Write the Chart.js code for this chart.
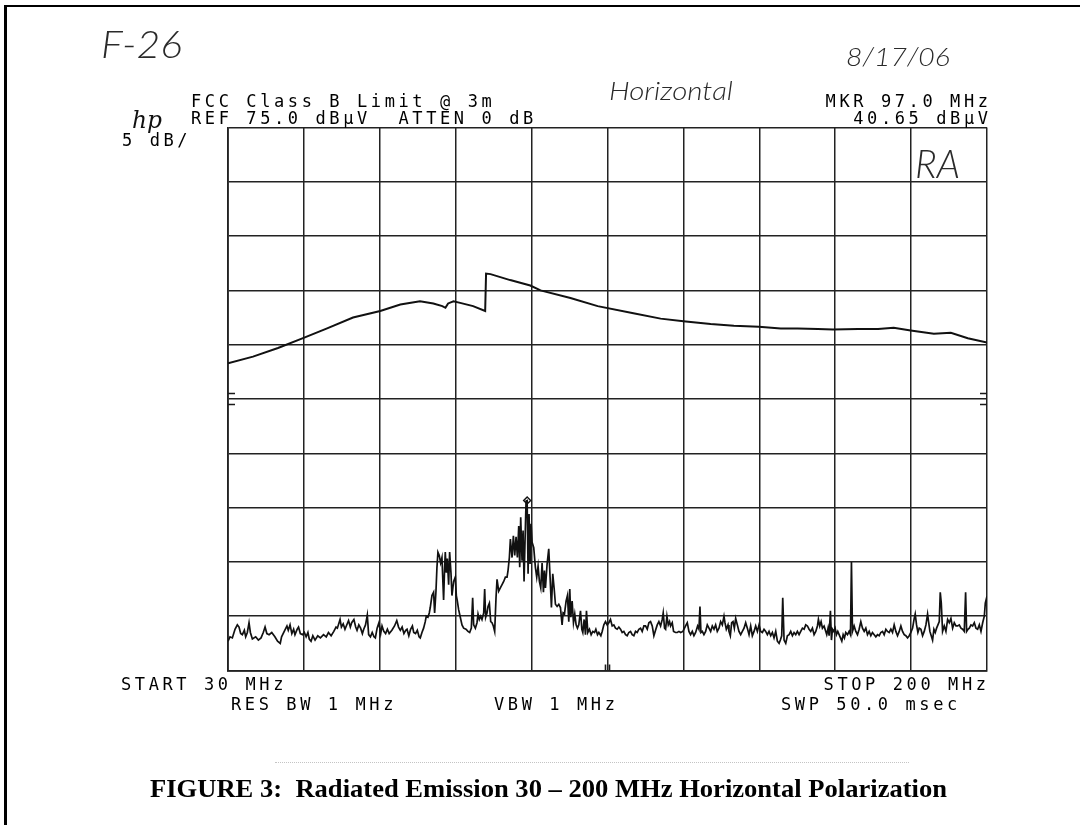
<!DOCTYPE html>
<html>
<head>
<meta charset="utf-8">
<title>Radiated Emission 30 – 200 MHz Horizontal Polarization</title>
<script src="https://cdn.jsdelivr.net/npm/chart.js@4.4.1/dist/chart.umd.min.js"></script>
<style>
  html, body { margin: 0; padding: 0; background: #fff; }
  #page { position: relative; width: 1080px; height: 825px; overflow: hidden; background: #fff; }
  #chart { position: absolute; left: 0; top: 0; }
  .lbl { position: absolute; white-space: pre; transform-origin: 0 0; color: #111; }
  .plot { font-family: 'DejaVu Sans Mono', monospace; font-size: 17px; letter-spacing: 3.6px; line-height: 17px; color: #000; }
  .hand { font-family: 'Lato', 'DejaVu Sans', sans-serif; font-style: italic; font-weight: 300; color: #2a2a2a; }
  .logo { font-family: 'DejaVu Serif', serif; font-style: italic; }
  .caption { font-family: 'Liberation Serif', 'Times New Roman', serif; font-weight: bold; font-size: 26px; color: #000; }
  .frame-left { position: absolute; left: 4px; top: 5px; width: 3px; height: 820px; background: #000; }
  .frame-top { position: absolute; left: 4px; top: 5px; width: 1076px; height: 2px; background: #000; }
  .scanline { position: absolute; left: 275px; top: 762px; width: 634px; border-top: 1px dotted #c4c4c4; }
</style>
</head>
<body>
<div id="page">
  <canvas id="chart" width="1080" height="825"></canvas>
  <div class="frame-left"></div>
  <div class="frame-top"></div>
  <div class="scanline"></div>
</div>
<script>
// HP spectrum analyser plot, FCC Class B radiated emission scan

// sweep settings
const startMHz = 30;
const stopMHz = 200;
const refLevel = 75.0;   // dBµV at top graticule
const dbPerDiv = 5;
const markerFreq = 97.0;
const markerLevel = 40.65;

// graticule (10 x 10 divisions)
const freqGrid = [30, 47, 64, 81, 98, 115, 132, 149, 166, 183, 200];
const levelGrid = [25, 30, 35, 40, 45, 50, 55, 60, 65, 70, 75];

// upper trace [MHz, dBµV]
const limitTrace = [
    [30.0, 53.3], [35.6, 53.9], [41.2, 54.7], [46.8, 55.6], [52.2, 56.5], [58.0, 57.5],
    [64.1, 58.1], [68.6, 58.7], [73.0, 59.0], [76.0, 58.8], [78.0, 58.55], [78.7, 58.4],
    [79.3, 58.8], [80.5, 59.0], [82.0, 58.85], [84.9, 58.55], [87.6, 58.1], [87.8, 61.55],
    [88.8, 61.5], [93.2, 60.95], [97.7, 60.45], [100.0, 60.0], [106.7, 59.3], [112.8, 58.55],
    [120.8, 57.9], [126.9, 57.4], [132.0, 57.15], [138.1, 56.9], [143.3, 56.75], [148.9, 56.65],
    [153.8, 56.5], [157.6, 56.5], [162.1, 56.45], [165.5, 56.4], [171.1, 56.45], [175.6, 56.45],
    [179.1, 56.55], [182.9, 56.3], [188.1, 56.0], [191.9, 56.1], [195.7, 55.6], [200.0, 55.2]
];

// lower (measured emission) trace [MHz, dBµV]
const emissionTrace = [
    [30.0, 27.7], [30.45, 28.1], [30.97, 28.0], [31.57, 28.8], [32.09, 29.2], [32.47, 29.0],
    [32.84, 28.4], [33.21, 28.3], [33.66, 28.7], [33.96, 28.1], [34.33, 28.5], [34.71, 29.4],
    [35.01, 28.5], [35.46, 27.9], [36.2, 28.1], [36.8, 27.8], [37.4, 28.0], [37.9, 28.5],
    [38.3, 29.0], [38.7, 28.4], [39.2, 28.3], [39.8, 28.5], [40.5, 28.1], [41.1, 27.7],
    [41.7, 27.5], [42.0, 28.1], [42.6, 28.6], [43.2, 29.1], [43.5, 28.7], [43.9, 29.2],
    [44.3, 28.4], [44.7, 28.8], [45.0, 28.3], [45.5, 28.8], [45.8, 29.0], [46.2, 28.4],
    [46.7, 28.3], [47.1, 28.5], [47.5, 28.1], [47.9, 28.5], [48.2, 27.9], [48.6, 27.7],
    [49.0, 28.2], [49.5, 27.8], [50.1, 28.2], [50.7, 28.0], [51.4, 28.3], [52.0, 28.1],
    [52.5, 28.5], [53.1, 28.2], [53.7, 28.6], [54.2, 29.0], [54.5, 28.9], [55.1, 29.7],
    [55.4, 29.0], [55.8, 29.3], [56.2, 28.8], [56.5, 29.1], [57.0, 29.6], [57.4, 29.0],
    [57.7, 29.4], [58.2, 29.7], [58.6, 29.0], [58.9, 28.7], [59.3, 29.2], [59.7, 28.9],
    [60.1, 28.4], [60.4, 28.8], [60.8, 29.2], [61.2, 30.1], [61.5, 28.3], [61.9, 28.1],
    [62.3, 28.5], [62.7, 28.1], [63.0, 28.0], [63.4, 28.9], [63.8, 29.4], [64.2, 28.4],
    [64.5, 29.1], [64.9, 28.6], [65.3, 28.4], [65.7, 28.8], [66.1, 28.4], [66.7, 28.7],
    [67.3, 29.1], [67.8, 29.6], [68.2, 29.0], [68.6, 28.7], [69.0, 29.0], [69.4, 28.4],
    [69.8, 28.7], [70.1, 28.8], [70.5, 28.2], [70.9, 28.8], [71.3, 29.1], [71.6, 28.5],
    [72.0, 28.4], [72.4, 28.7], [72.8, 28.1], [73.06, 28.0], [73.44, 28.5], [73.81, 28.9],
    [74.18, 29.5], [74.41, 30.0], [74.78, 29.9], [75.08, 30.3], [75.3, 30.8], [75.68, 31.9],
    [76.05, 32.2], [76.28, 30.3], [76.58, 32.3], [76.8, 34.5], [77.02, 35.9], [77.32, 35.6],
    [77.62, 34.9], [77.92, 35.4], [78.29, 31.5], [78.52, 34.5], [78.67, 35.9], [78.89, 34.0],
    [79.12, 35.3], [79.42, 32.9], [79.64, 35.9], [79.94, 34.0], [80.16, 31.9], [80.54, 33.2],
    [80.91, 33.6], [81.14, 31.9], [81.36, 31.4], [81.66, 30.6], [82.03, 29.9], [82.41, 29.2],
    [82.78, 28.9], [83.3, 28.8], [83.75, 28.6], [84.13, 28.5], [84.5, 28.9], [84.8, 31.7],
    [85.02, 29.2], [85.4, 28.9], [85.77, 29.4], [86.0, 30.2], [86.29, 29.7], [86.59, 30.0],
    [86.89, 29.7], [87.27, 30.3], [87.49, 32.5], [87.71, 29.9], [88.01, 30.3], [88.24, 30.9],
    [88.54, 31.2], [88.84, 29.5], [89.13, 29.4], [89.43, 29.1], [89.73, 28.6], [90.03, 31.7],
    [90.26, 33.4], [90.63, 32.3], [91.0, 32.6], [91.38, 32.9], [91.75, 33.2], [92.13, 33.6],
    [92.5, 33.6], [92.72, 34.2], [93.02, 35.4], [93.25, 37.1], [93.62, 35.4], [93.92, 37.4],
    [94.22, 35.6], [94.52, 37.3], [94.82, 35.4], [95.12, 38.3], [95.34, 34.5], [95.56, 39.1],
    [95.86, 35.1], [96.09, 37.9], [96.31, 33.2], [96.54, 37.1], [96.76, 40.6], [97.0, 40.65],
    [97.21, 33.9], [97.43, 39.4], [97.66, 34.8], [97.88, 38.5], [98.11, 36.8], [98.48, 36.3],
    [98.85, 34.5], [99.15, 33.6], [99.45, 34.6], [99.75, 33.2], [100.05, 32.6], [100.35, 34.9],
    [100.65, 32.2], [100.87, 34.2], [101.1, 32.6], [101.47, 34.8], [101.84, 36.2], [102.14, 33.6],
    [102.44, 30.8], [102.74, 33.9], [103.04, 32.6], [103.34, 31.1], [103.71, 30.9], [104.09, 31.1],
    [104.46, 30.8], [104.83, 29.2], [105.06, 30.3], [105.36, 30.2], [105.73, 31.4], [106.03, 31.9],
    [106.33, 29.5], [106.55, 32.5], [106.78, 29.9], [107.08, 31.4], [107.38, 29.4], [107.67, 30.2],
    [107.97, 29.2], [108.27, 28.9], [108.57, 29.2], [108.95, 30.5], [109.25, 28.8], [109.47, 28.5],
    [109.77, 29.7], [110.07, 28.3], [110.29, 30.5], [110.59, 28.5], [110.96, 28.8], [111.34, 28.3],
    [111.71, 28.6], [112.09, 28.5], [112.39, 28.8], [112.76, 28.3], [113.06, 28.5], [113.51, 28.2],
    [113.81, 28.6], [114.18, 29.2], [114.55, 29.5], [114.92, 29.2], [115.3, 29.4], [115.67, 29.7],
    [116.05, 29.1], [116.42, 29.2], [116.79, 28.9], [117.17, 28.8], [117.54, 29.0], [117.91, 28.8],
    [118.29, 28.5], [118.66, 28.6], [119.04, 28.3], [119.41, 28.2], [119.78, 28.5], [120.16, 28.6],
    [120.53, 28.3], [120.9, 28.2], [121.28, 28.6], [121.65, 28.5], [122.03, 28.8], [122.4, 28.9],
    [122.77, 28.6], [123.15, 29.1], [123.52, 29.1], [123.9, 28.8], [124.27, 29.4], [124.64, 29.5],
    [125.02, 29.1], [125.39, 28.2], [125.76, 28.7], [126.14, 29.2], [126.51, 29.5], [126.89, 29.1],
    [127.26, 29.7], [127.48, 30.3], [127.78, 28.9], [128.01, 28.8], [128.31, 30.0], [128.61, 29.2],
    [128.9, 29.5], [129.13, 29.1], [129.5, 29.4], [129.8, 28.6], [130.25, 28.5], [130.62, 28.5],
    [131.0, 28.6], [131.37, 28.5], [131.89, 28.6], [132.49, 29.1], [132.87, 29.4], [133.24, 28.6],
    [133.61, 28.3], [133.99, 28.6], [134.36, 28.2], [134.74, 28.5], [135.18, 29.1], [135.48, 28.8],
    [135.71, 30.9], [135.93, 28.5], [136.23, 28.6], [136.6, 28.3], [136.98, 28.6], [137.35, 29.2],
    [137.73, 28.9], [138.1, 28.6], [138.47, 29.1], [138.85, 28.8], [139.22, 29.2], [139.59, 28.6],
    [139.97, 28.9], [140.34, 29.5], [140.72, 29.2], [141.09, 30.0], [141.31, 29.4], [141.61, 28.8],
    [141.99, 29.2], [142.21, 28.6], [142.51, 28.2], [142.81, 29.4], [143.11, 29.5], [143.41, 28.9],
    [143.71, 29.8], [144.08, 29.2], [144.45, 28.6], [144.83, 28.3], [145.2, 28.6], [145.58, 28.9],
    [145.95, 29.4], [146.32, 28.9], [146.7, 28.3], [147.07, 29.1], [147.44, 28.2], [147.82, 28.6],
    [148.19, 29.1], [148.57, 28.6], [148.94, 29.2], [149.31, 28.6], [149.69, 28.5], [150.06, 28.8],
    [150.43, 28.6], [150.81, 28.3], [151.18, 28.6], [151.56, 28.2], [151.93, 28.5], [152.3, 28.0],
    [152.68, 28.6], [153.05, 27.7], [153.43, 27.5], [153.72, 27.8], [154.02, 28.2], [154.25, 31.7],
    [154.55, 27.8], [154.92, 27.5], [155.29, 28.2], [155.67, 28.3], [156.04, 28.6], [156.42, 28.2],
    [156.79, 28.5], [157.16, 28.3], [157.53, 28.6], [157.91, 28.3], [158.28, 28.6], [158.66, 28.9],
    [159.03, 28.8], [159.4, 29.2], [159.78, 29.1], [160.15, 28.8], [160.52, 28.6], [160.9, 28.9],
    [161.27, 28.3], [161.65, 28.6], [162.02, 29.1], [162.24, 29.7], [162.54, 29.1], [162.84, 29.5],
    [163.14, 28.9], [163.51, 29.1], [163.89, 28.6], [164.11, 28.3], [164.41, 28.9], [164.64, 28.2],
    [164.93, 30.5], [165.16, 27.8], [165.38, 28.8], [165.68, 28.6], [165.98, 28.9], [166.28, 28.3],
    [166.58, 28.6], [166.88, 28.3], [167.18, 28.0], [167.48, 27.7], [167.78, 28.3], [168.07, 28.0],
    [168.37, 28.5], [168.75, 28.3], [169.12, 28.6], [169.42, 28.3], [169.64, 35.0], [169.87, 28.6],
    [170.24, 29.1], [170.62, 28.6], [170.99, 28.3], [171.36, 28.8], [171.74, 29.5], [172.11, 28.9],
    [172.49, 28.6], [172.86, 28.9], [173.23, 28.3], [173.61, 28.6], [173.98, 28.2], [174.35, 28.5],
    [174.73, 28.3], [175.1, 28.1], [175.48, 28.3], [175.85, 28.2], [176.22, 28.5], [176.6, 28.6],
    [176.97, 28.3], [177.35, 28.8], [177.72, 28.6], [178.09, 28.5], [178.47, 28.8], [178.84, 28.5],
    [179.21, 29.2], [179.59, 28.6], [179.96, 28.2], [180.34, 28.6], [180.71, 29.1], [181.08, 28.6],
    [181.46, 28.3], [181.83, 28.2], [182.2, 28.0], [182.58, 28.2], [182.95, 28.5], [183.33, 28.9],
    [183.7, 29.8], [183.92, 30.2], [184.22, 29.2], [184.52, 28.5], [184.82, 28.9], [185.2, 28.8],
    [185.57, 28.2], [185.94, 28.6], [186.32, 29.2], [186.69, 30.2], [186.91, 29.5], [187.21, 28.6],
    [187.51, 28.2], [187.81, 27.8], [188.11, 28.8], [188.41, 28.5], [188.71, 28.9], [189.01, 29.2],
    [189.31, 29.5], [189.53, 32.2], [189.76, 31.2], [190.05, 28.6], [190.43, 29.1], [190.8, 28.6],
    [191.18, 29.7], [191.55, 29.4], [191.92, 29.8], [192.3, 28.9], [192.67, 29.4], [193.04, 29.1],
    [193.42, 29.1], [193.79, 29.2], [194.17, 28.9], [194.54, 28.8], [194.91, 28.6], [195.21, 32.2],
    [195.44, 28.6], [195.74, 28.8], [196.04, 28.9], [196.41, 29.2], [196.78, 29.1], [197.16, 29.4],
    [197.53, 28.9], [197.9, 28.8], [198.28, 29.2], [198.65, 28.6], [199.03, 29.4], [199.4, 30.0],
    [199.62, 31.2], [200.0, 31.85]
];

const toPoints = rows => rows.map(r => ({ x: r[0], y: r[1] }));

// small analyser marks: reference ticks at 50 dB on both edges, centre-frequency tick at bottom
const analyserMarks = {
    id: 'analyserMarks',
    afterDatasetsDraw(chart) {
        const { ctx, chartArea, scales } = chart;
        const yRef = scales.y.getPixelForValue(50);
        const xCentre = scales.x.getPixelForValue((startMHz + stopMHz) / 2);
        ctx.save();
        ctx.strokeStyle = '#1a1a1a';
        ctx.lineWidth = 1.6;
        ctx.beginPath();
        [-5.5, 5.5].forEach(d => {
            ctx.moveTo(chartArea.left, yRef + d);
            ctx.lineTo(chartArea.left + 7, yRef + d);
            ctx.moveTo(chartArea.right - 7, yRef + d);
            ctx.lineTo(chartArea.right, yRef + d);
        });
        [-2, 2].forEach(d => {
            ctx.moveTo(xCentre + d, chartArea.bottom - 6);
            ctx.lineTo(xCentre + d, chartArea.bottom);
        });
        ctx.stroke();
        ctx.restore();
    }
};

const gridColor = '#222';

new Chart(document.getElementById('chart').getContext('2d'), {
    type: 'line',
    data: {
        datasets: [{
            label: 'Limit',
            data: toPoints(limitTrace),
            borderColor: '#111',
            borderWidth: 2,
            pointRadius: 0,
            tension: 0
        }, {
            label: 'Emission',
            data: toPoints(emissionTrace),
            borderColor: '#111',
            borderWidth: 1.7,
            pointRadius: 0,
            tension: 0
        }, {
            label: 'Marker',
            data: [{ x: markerFreq, y: markerLevel }],
            showLine: false,
            pointStyle: 'rectRot',
            pointRadius: 3.5,
            borderWidth: 1.4,
            borderColor: '#111',
            backgroundColor: '#fff'
        }]
    },
    options: {
        responsive: false,
        animation: false,
        events: [],
        layout: { padding: { left: 228, top: 127.5, right: 93, bottom: 154.5 } },
        plugins: {
            legend: { display: false },
            tooltip: { enabled: false },
            title: { display: false }
        },
        scales: {
            x: {
                type: 'linear',
                min: startMHz,
                max: stopMHz,
                afterBuildTicks: s => { s.ticks = freqGrid.map(v => ({ value: v })); },
                afterFit: s => { s.height = 0; },
                ticks: { display: false },
                grid: { color: gridColor, lineWidth: 1.5, drawTicks: false },
                border: { display: true, color: gridColor, width: 1.8 }
            },
            y: {
                min: refLevel - 10 * dbPerDiv,
                max: refLevel,
                afterBuildTicks: s => { s.ticks = levelGrid.map(v => ({ value: v })); },
                afterFit: s => { s.width = 0; },
                ticks: { display: false },
                grid: { color: gridColor, lineWidth: 1.5, drawTicks: false },
                border: { display: true, color: gridColor, width: 1.8 }
            }
        }
    },
    plugins: [analyserMarks]
});

// text on the plot (plotter annotations, handwriting, figure caption)
const labels = [
    { cls: 'hand', text: 'F-26', left: 101, base: 58, size: 38, w: 81 },
    { cls: 'hand', text: '8/17/06', left: 846, base: 66, size: 26, w: 104 },
    { cls: 'hand', text: 'Horizontal', left: 609, base: 100, size: 25, w: 124 },
    { cls: 'hand', text: 'RA', left: 915, base: 178, size: 40, w: 45 },
    { cls: 'logo', text: 'hp', left: 132, base: 128, size: 24, w: 30 },
    { cls: 'plot', text: 'FCC Class B Limit @ 3m', left: 191, base: 107 },
    { cls: 'plot', text: 'REF ' + refLevel.toFixed(1) + ' dBµV  ATTEN 0 dB', left: 191, base: 124 },
    { cls: 'plot', text: 'MKR ' + markerFreq.toFixed(1) + ' MHz', right: 988, base: 107 },
    { cls: 'plot', text: markerLevel.toFixed(2) + ' dBµV', right: 988, base: 124 },
    { cls: 'plot', text: dbPerDiv + ' dB/', left: 122, base: 146 },
    { cls: 'plot', text: 'START ' + startMHz + ' MHz', left: 121, base: 690 },
    { cls: 'plot', text: 'STOP ' + stopMHz + ' MHz', right: 986, base: 690 },
    { cls: 'plot', text: 'RES BW 1 MHz', left: 231, base: 710 },
    { cls: 'plot', text: 'VBW 1 MHz', left: 494, base: 710 },
    { cls: 'plot', text: 'SWP 50.0 msec', left: 781, base: 710 },
    { cls: 'caption', text: 'FIGURE 3:  Radiated Emission ' + startMHz + ' – ' + stopMHz + ' MHz Horizontal Polarization', left: 150, base: 797, w: 797 }
];

const page = document.getElementById('page');
const labelEls = labels.map(l => {
    const el = document.createElement('div');
    el.className = 'lbl ' + l.cls;
    el.textContent = l.text;
    if (l.size) el.style.fontSize = l.size + 'px';
    page.appendChild(el);
    return el;
});

function placeLabels() {
    labels.forEach((l, i) => {
        const el = labelEls[i];
        el.style.transform = 'none';
        el.style.left = '0px';
        el.style.top = '0px';
        // find baseline offset with a zero-size probe
        const probe = document.createElement('span');
        probe.style.cssText = 'display:inline-block;width:0;height:0;vertical-align:baseline;';
        el.appendChild(probe);
        const baseOff = probe.offsetTop;
        el.removeChild(probe);
        const width = el.getBoundingClientRect().width;
        let left = l.left;
        if (l.right !== undefined) {
            left = l.right - (width - 3.6);
        }
        if (l.w) {
            el.style.transform = 'scaleX(' + (l.w / width) + ')';
        }
        el.style.left = left + 'px';
        el.style.top = (l.base - baseOff) + 'px';
    });
}

placeLabels();
if (document.fonts && document.fonts.ready) {
    document.fonts.ready.then(placeLabels);
}
</script>
</body>
</html>
